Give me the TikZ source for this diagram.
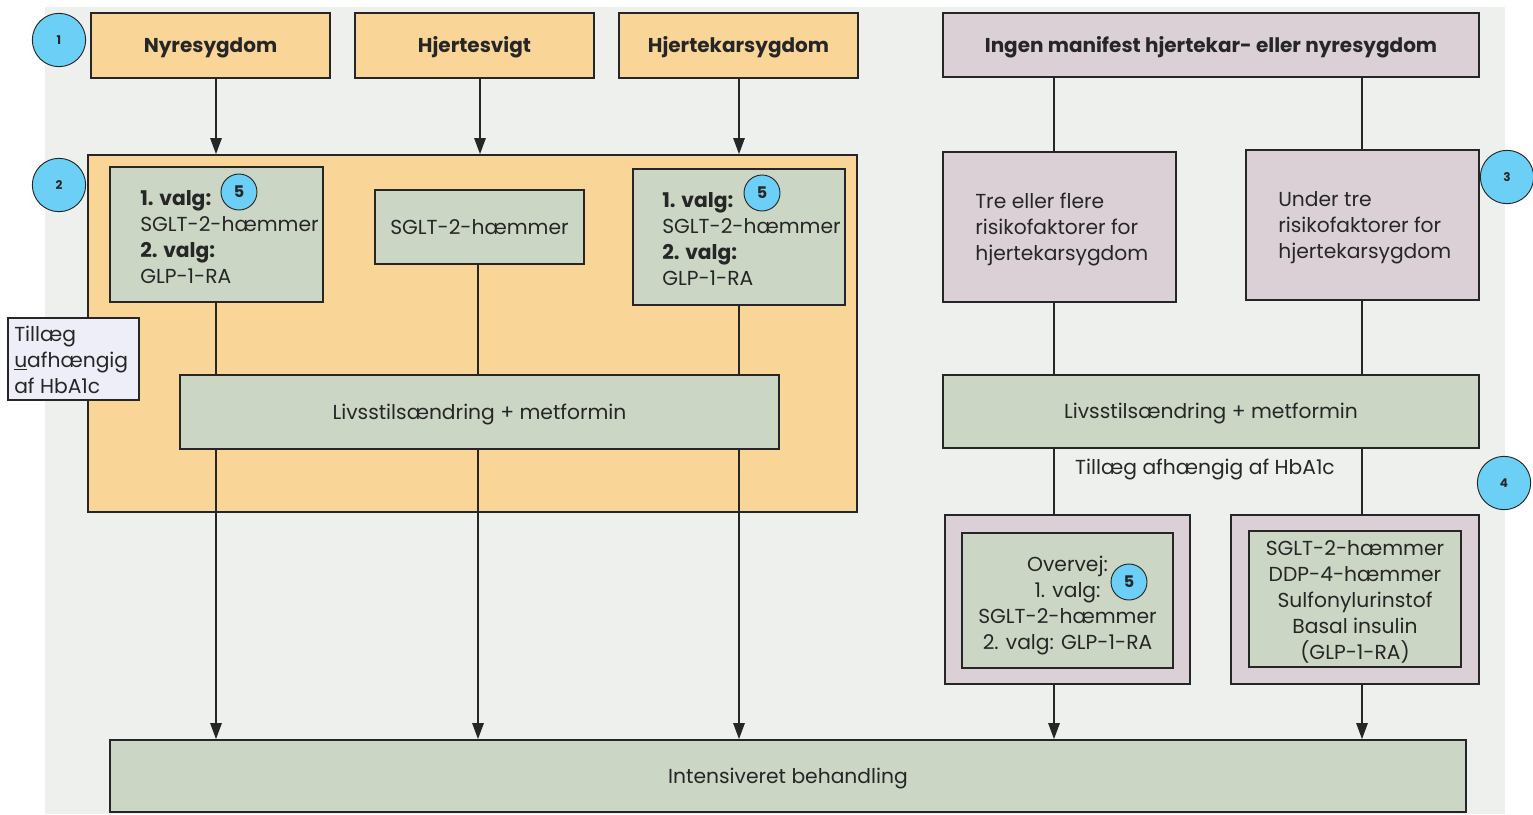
\documentclass[tikz,border=0pt]{standalone}
\usepackage{fontspec}
\setmainfont{Poppins}
\usetikzlibrary{arrows.meta}
\definecolor{bgc}{HTML}{EEF0ED}
\definecolor{orangec}{HTML}{F9D597}
\definecolor{mauvec}{HTML}{DBD0D6}
\definecolor{greenc}{HTML}{CBD6C5}
\definecolor{bluec}{HTML}{6CD0F6}
\definecolor{lavc}{HTML}{EEEEF8}
\definecolor{linec}{HTML}{262626}
\tikzset{
  wh/.style 2 args={minimum width={#1*0.75pt}, minimum height={#2*0.75pt}},
  boxbase/.style={draw=linec, line width=1.3pt, inner sep=0pt, align=center},
  obox/.style={boxbase, fill=orangec},
  mbox/.style={boxbase, fill=mauvec},
  gbox/.style={boxbase, fill=greenc},
  lbox/.style={draw=linec, line width=0.8pt, inner sep=0pt, fill=lavc},
  bodyfont/.style={font=\fontsize{15.2}{19.5}\selectfont, text=linec},
  titlefont/.style={font=\fontsize{15}{18}\selectfont\bfseries, text=linec},
  oneline/.style={text height=10.6pt, text depth=0pt},
  txt/.style={bodyfont, inner sep=0pt},
  num/.style={circle, draw=linec, line width=0.7pt, fill=bluec, minimum size=40pt, inner sep=0pt, font=\fontsize{9}{10}\selectfont\bfseries, text=linec},
  numsmall/.style={circle, draw=linec, line width=0.7pt, fill=bluec, minimum size=27pt, inner sep=0pt, font=\fontsize{12}{12}\selectfont\bfseries, text=linec},
  conn/.style={draw=linec, line width=1.3pt},
  arr/.style={conn, -{Triangle[length=12pt,width=8.5pt]}},
}
\begin{document}
\begin{tikzpicture}[x=0.75pt,y=-0.75pt]
\useasboundingbox (0,0) rectangle (1533,814);
\fill[bgc] (45,7) rectangle (1505,814);

% top row
\node[obox, wh={239}{65}, titlefont, oneline] (nyre) at (210.5,45.5) {Nyresygdom};
\node[obox, wh={239}{65}, titlefont, oneline] (svigt) at (474.5,45.5) {Hjertesvigt};
\node[obox, wh={239}{65}, titlefont, oneline] (kar) at (738.5,45.5) {Hjertekarsygdom};
\node[mbox, wh={536}{64}, titlefont, oneline] (ingen) at (1211,45) {Ingen manifest hjertekar- eller nyresygdom};

% big orange box
\node[obox, wh={769}{357}] (big) at (472.5,333.5) {};

% choice boxes
\node[gbox, wh={213}{135}] (boxA) at (216.5,234.5) {};
\node[txt, anchor=north west, align=left] (textA) at (140,190) {\textbf{1. valg:}\\SGLT-2-hæmmer\\\textbf{2. valg:}\\GLP-1-RA};
\node[gbox, wh={209}{74}, bodyfont, oneline] (boxB) at (479.5,227) {SGLT-2-hæmmer};
\node[gbox, wh={212}{136}] (boxC) at (739,237) {};
\node[txt, anchor=north west, align=left] (textC) at (662,192) {\textbf{1. valg:}\\SGLT-2-hæmmer\\\textbf{2. valg:}\\GLP-1-RA};

\node[gbox, wh={599}{74}, bodyfont, oneline] (livL) at (479.5,412) {Livsstilsændring + metformin};

% tillaeg box
\node[lbox, wh={131}{82}] (tillbox) at (73.5,359) {};
\node[txt, anchor=north west, align=left] (tilltext) at (14,326) {Tillæg\\\underline{u}afhængig\\af HbA1c};

% right side
\node[mbox, wh={233}{150}] (tre) at (1059.5,227) {};
\node[txt, anchor=north west, align=left] (tretext) at (975,193) {Tre eller flere\\risikofaktorer for\\hjertekarsygdom};
\node[mbox, wh={233}{150}] (under) at (1362.5,225) {};
\node[txt, anchor=north west, align=left] (undertext) at (1278,191) {Under tre\\risikofaktorer for\\hjertekarsygdom};

\node[gbox, wh={536}{73}, bodyfont, oneline] (livR) at (1211,411.5) {Livsstilsændring + metformin};
\node[txt, oneline] (afh) at (1205,467) {Tillæg afhængig af HbA1c};

\node[mbox, wh={245}{169}] (outL) at (1067.5,599.5) {};
\node[gbox, wh={211}{135}] (inL) at (1067.5,600.5) {};
\node[txt, align=center, yshift=-3.75pt] (inLtext) at (inL) {Overvej:\\1. valg:\\SGLT-2-hæmmer\\2. valg: GLP-1-RA};
\node[mbox, wh={248}{169}] (outR) at (1355,599.5) {};
\node[gbox, wh={212}{136}] (inR) at (1355,599) {};
\node[txt, align=center, yshift=-2.25pt] (inRtext) at (inR) {SGLT-2-hæmmer\\DDP-4-hæmmer\\Sulfonylurinstof\\Basal insulin\\(GLP-1-RA)};

% bottom
\node[gbox, wh={1356}{72}, bodyfont, oneline] (intens) at (788,776) {Intensiveret behandling};

% numbered circles
\node[num] (n1) at (59,40) {1};
\node[num] (n2) at (59,185) {2};
\node[num] (n3) at (1507,177) {3};
\node[num] (n4) at (1504,483) {4};
\node[numsmall] (n5a) at (239,192) {5};
\node[numsmall] (n5b) at (762,193) {5};
\node[numsmall] (n5c) at (1129,582) {5};

% column coordinates
\coordinate (cA) at (216,0);
\coordinate (cS) at (480,0);
\coordinate (cB) at (478,0);
\coordinate (cC) at (739,0);
\coordinate (cL) at (1054,0);
\coordinate (cR) at (1362,0);

% connectors left
\draw[arr] (cA |- nyre.south) -- (cA |- big.north);
\draw[arr] (cS |- svigt.south) -- (cS |- big.north);
\draw[arr] (cC |- kar.south) -- (cC |- big.north);
\draw[conn] (cA |- boxA.south) -- (cA |- livL.north);
\draw[conn] (cB |- boxB.south) -- (cB |- livL.north);
\draw[conn] (cC |- boxC.south) -- (cC |- livL.north);
\draw[arr] (cA |- livL.south) -- (cA |- intens.north);
\draw[arr] (cB |- livL.south) -- (cB |- intens.north);
\draw[arr] (cC |- livL.south) -- (cC |- intens.north);

% connectors right
\draw[conn] (cL |- ingen.south) -- (cL |- tre.north);
\draw[conn] (cR |- ingen.south) -- (cR |- under.north);
\draw[conn] (cL |- tre.south) -- (cL |- livR.north);
\draw[conn] (cR |- under.south) -- (cR |- livR.north);
\draw[conn] (cL |- livR.south) -- (cL |- outL.north);
\draw[conn] (cR |- livR.south) -- (cR |- outR.north);
\draw[arr] (cL |- outL.south) -- (cL |- intens.north);
\draw[arr] (cR |- outR.south) -- (cR |- intens.north);
\end{tikzpicture}
\end{document}
